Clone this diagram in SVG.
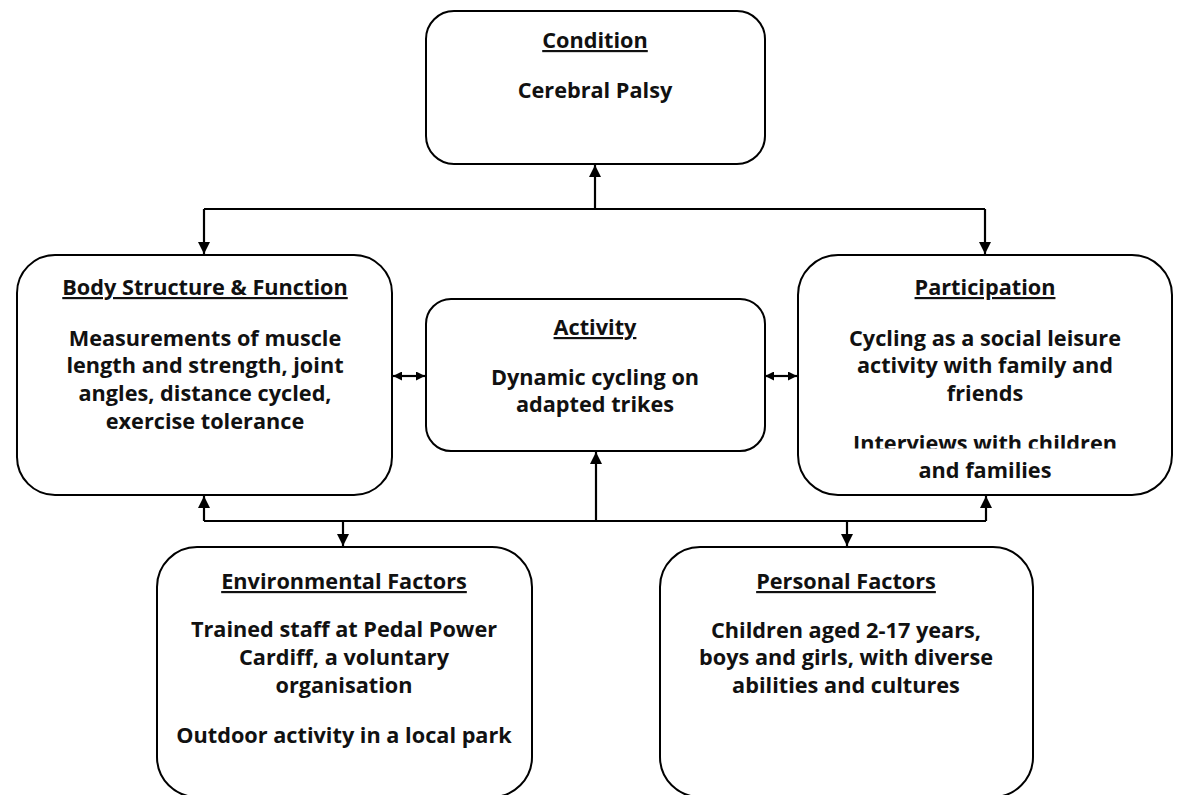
<svg xmlns="http://www.w3.org/2000/svg" width="1180" height="795" viewBox="0 0 1180 795">
<style>
.box{fill:#fff;stroke:#000;stroke-width:2}
.t{font-family:"Open Sans",Lato,"Liberation Sans",sans-serif;font-weight:bold;font-size:21.7px;fill:#111;text-anchor:middle}
.h{text-decoration:underline}
.c{fill:none;stroke:#000;stroke-width:2.2}
</style>
<defs>
<marker id="ah" viewBox="0 0 12 12" refX="12" refY="6" markerWidth="12" markerHeight="12" markerUnits="userSpaceOnUse" orient="auto">
<path d="M0,0 L12,6 L0,12 Z" fill="#000"/>
</marker>
<marker id="as" viewBox="0 0 9 9" refX="9" refY="4.5" markerWidth="9" markerHeight="9" markerUnits="userSpaceOnUse" orient="auto-start-reverse">
<path d="M0,0 L9,4.5 L0,9 Z" fill="#000"/>
</marker>
<clipPath id="clipInt"><rect x="798" y="420" width="374" height="28.5"/></clipPath>
</defs>
<rect width="1180" height="795" fill="#fff"/>

<g id="connectors">
<path class="c" d="M595,209 V165" marker-end="url(#ah)"/>
<path class="c" d="M204,209 H985"/>
<path class="c" d="M204,209 V254" marker-end="url(#ah)"/>
<path class="c" d="M985,209 V254" marker-end="url(#ah)"/>
<path class="c" d="M204,521 H986"/>
<path class="c" d="M204,521 V496" marker-end="url(#ah)"/>
<path class="c" d="M986,521 V496" marker-end="url(#ah)"/>
<path class="c" d="M596,521 V452" marker-end="url(#ah)"/>
<path class="c" d="M343,521 V546" marker-end="url(#ah)"/>
<path class="c" d="M847,521 V546" marker-end="url(#ah)"/>
<path class="c" d="M393,376 H425" marker-start="url(#as)" marker-end="url(#as)"/>
<path class="c" d="M765,376 H797" marker-start="url(#as)" marker-end="url(#as)"/>
</g>

<g id="condition">
<rect class="box" x="426" y="11" width="339" height="153" rx="28"/>
<text class="t h" x="595" y="48">Condition</text>
<text class="t" x="595" y="98">Cerebral Palsy</text>
</g>

<g id="body">
<rect class="box" x="17" y="255" width="375" height="240" rx="38"/>
<text class="t h" x="205" y="295">Body Structure &amp; Function</text>
<text class="t" x="205" y="346">Measurements of muscle</text>
<text class="t" x="205" y="373">length and strength, joint</text>
<text class="t" x="205" y="401">angles, distance cycled,</text>
<text class="t" x="205" y="429">exercise tolerance</text>
</g>

<g id="activity">
<rect class="box" x="426" y="299" width="339" height="152" rx="25"/>
<text class="t h" x="595" y="335">Activity</text>
<text class="t" x="595" y="385">Dynamic cycling on</text>
<text class="t" x="595" y="412">adapted trikes</text>
</g>

<g id="participation">
<rect class="box" x="798" y="255" width="374" height="240" rx="40"/>
<text class="t h" x="985" y="295">Participation</text>
<text class="t" x="985" y="346">Cycling as a social leisure</text>
<text class="t" x="985" y="373">activity with family and</text>
<text class="t" x="985" y="401">friends</text>
<text class="t" x="985" y="451" clip-path="url(#clipInt)">Interviews with children</text>
<text class="t" x="985" y="478">and families</text>
</g>

<g id="environmental">
<rect class="box" x="157" y="547" width="375" height="250" rx="40"/>
<text class="t h" x="344" y="589">Environmental Factors</text>
<text class="t" x="344" y="637">Trained staff at Pedal Power</text>
<text class="t" x="344" y="665">Cardiff, a voluntary</text>
<text class="t" x="344" y="693">organisation</text>
<text class="t" x="344" y="743">Outdoor activity in a local park</text>
</g>

<g id="personal">
<rect class="box" x="660" y="547" width="373" height="250" rx="40"/>
<text class="t h" x="846" y="589">Personal Factors</text>
<text class="t" x="846" y="638">Children aged 2-17 years,</text>
<text class="t" x="846" y="665">boys and girls, with diverse</text>
<text class="t" x="846" y="693">abilities and cultures</text>
</g>
</svg>
